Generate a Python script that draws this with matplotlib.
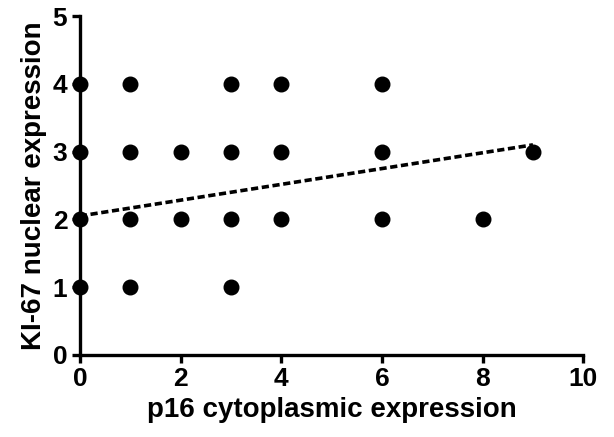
import matplotlib
matplotlib.use('Agg')
import matplotlib.pyplot as plt

# p16 cytoplasmic vs Ki-67 nuclear expression
p16 = [0, 0, 0, 0, 1, 1, 1, 1, 2, 2, 3, 3, 3, 3, 4, 4, 4, 6, 6, 6, 8, 9]
ki67 = [1, 2, 3, 4, 1, 2, 3, 4, 2, 3, 1, 2, 3, 4, 2, 3, 4, 2, 3, 4, 2, 3]

# regression line ends
fit_x = [0, 9]
fit_y = [2.05, 3.1]

plt.rcParams['font.family'] = ['Liberation Sans', 'DejaVu Sans']
plt.rcParams['font.weight'] = 'bold'

fig = plt.figure(figsize=(6.14, 4.37), dpi=100)
ax = fig.add_axes([0.130, 0.188, 0.820, 0.775])

ax.scatter(p16, ki67, s=110, color='black', zorder=3, clip_on=False)
ax.plot(fit_x, fit_y, color='black', lw=2.6, linestyle=(0, (2, 1)), zorder=2)

ax.set_xlim(0, 10)
ax.set_ylim(0, 5)
ax.set_xticks(range(0, 11, 2))
ax.set_yticks(range(0, 6))

for s in ['top', 'right']:
    ax.spines[s].set_visible(False)
for s in ['left', 'bottom']:
    ax.spines[s].set_linewidth(2.4)

ax.tick_params(width=2.4, length=6, labelsize=19, pad=3)
for lab in ax.get_xticklabels() + ax.get_yticklabels():
    lab.set_fontweight('bold')

ax.set_xlabel('p16 cytoplasmic expression', fontsize=20, fontweight='bold', labelpad=4)
ax.set_ylabel('KI-67 nuclear expression', fontsize=20, fontweight='bold', labelpad=4)

fig.savefig('out.png', dpi=100)
